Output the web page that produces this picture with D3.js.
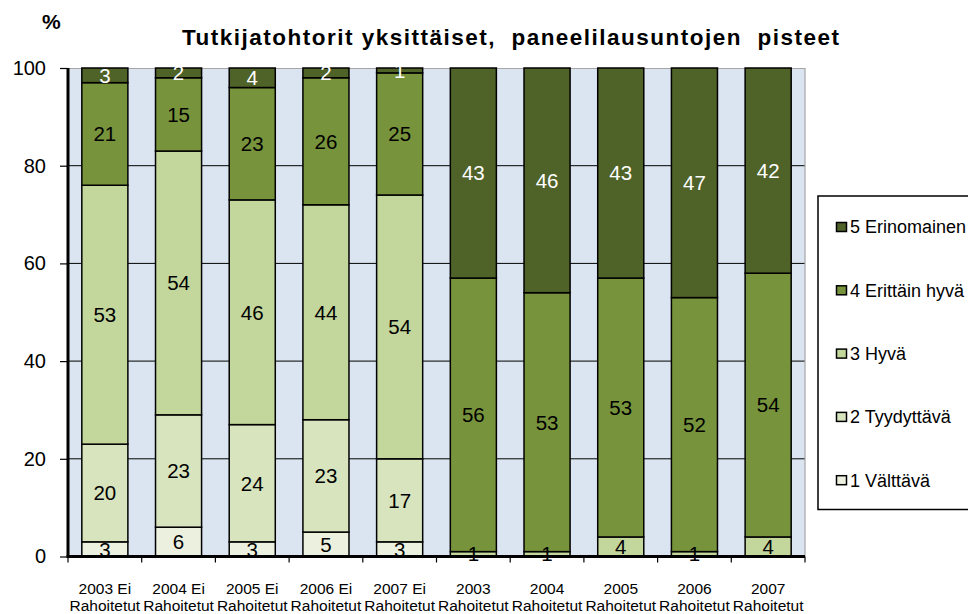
<!DOCTYPE html>
<html>
<head>
<meta charset="utf-8">
<script src="https://cdn.jsdelivr.net/npm/d3@7"></script>
<style>
    body { margin: 0; background: #fff; }
    svg { display: block; font-family: "Liberation Sans", Arial, sans-serif; }
</style>
</head>
<body>
<svg id="chart"></svg>
<script>
// categories (x axis), two-line tick labels
const categories = [
    '2003 Ei|Rahoitetut', '2004 Ei|Rahoitetut', '2005 Ei|Rahoitetut', '2006 Ei|Rahoitetut', '2007 Ei|Rahoitetut',
    '2003|Rahoitetut', '2004|Rahoitetut', '2005|Rahoitetut', '2006|Rahoitetut', '2007|Rahoitetut'
]
const seriesNames = ['1 Välttävä', '2 Tyydyttävä', '3 Hyvä', '4 Erittäin hyvä', '5 Erinomainen']

// series values, % per category
const valttava     = [3, 6, 3, 5, 3, 0, 0, 0, 0, 0]
const tyydyttava   = [20, 23, 24, 23, 17, 0, 0, 0, 0, 0]
const hyva         = [53, 54, 46, 44, 54, 1, 1, 4, 1, 4]
const erittainHyva = [21, 15, 23, 26, 25, 56, 53, 53, 52, 54]
const erinomainen  = [3, 2, 4, 2, 1, 43, 46, 43, 47, 42]

const yTicks = [0, 20, 40, 60, 80, 100]

class StackedBars {
    constructor(_config) {
        this.config = {
            parentElement: _config.parentElement,
            containerWidth: 968,
            containerHeight: 614,
            margin: {top: 68, right: 163, bottom: 57.5, left: 68},
        }
        this.colors = ['#ebf1de', '#d7e4bd', '#c3d69b', '#77933c', '#4f6228']
        this.initVis()
    }

    initVis() {
        let vis = this
        const m = vis.config.margin
        vis.width = vis.config.containerWidth - m.left - m.right
        vis.height = vis.config.containerHeight - m.top - m.bottom

        vis.svg = d3.select(vis.config.parentElement)
            .attr('width', vis.config.containerWidth)
            .attr('height', vis.config.containerHeight)

        vis.data = categories.map((c, i) => ({
            category: c,
            [seriesNames[0]]: valttava[i],
            [seriesNames[1]]: tyydyttava[i],
            [seriesNames[2]]: hyva[i],
            [seriesNames[3]]: erittainHyva[i],
            [seriesNames[4]]: erinomainen[i],
        }))

        vis.xScale = d3.scaleBand()
            .domain(categories)
            .range([0, vis.width])
            .paddingInner(0.375)
            .paddingOuter(0.1875)

        vis.yScale = d3.scaleLinear()
            .domain([0, 100])
            .range([vis.height, 0])

        vis.chart = vis.svg.append('g')
            .attr('transform', `translate(${m.left}, ${m.top})`)

        // plot background
        vis.chart.append('rect')
            .attr('width', vis.width)
            .attr('height', vis.height)
            .attr('fill', '#dbe5f1')

        // horizontal gridlines
        vis.chart.selectAll('.grid')
            .data(yTicks.filter(d => d > 0 && d < 100))
            .join('line')
            .attr('class', 'grid')
            .attr('x1', 0)
            .attr('x2', vis.width)
            .attr('y1', d => vis.yScale(d))
            .attr('y2', d => vis.yScale(d))
            .attr('stroke', '#000')
            .attr('stroke-width', 1)

        // border top/right
        vis.chart.append('path')
            .attr('d', `M0,0.5H${vis.width}V${vis.height}`)
            .attr('fill', 'none')
            .attr('stroke', '#a6a6a6')
            .attr('stroke-width', 1.2)

        vis.renderBars()
        vis.renderAxes()
        vis.renderTitles()
        vis.renderLegend()
    }

    renderBars() {
        let vis = this
        const stacked = d3.stack().keys(seriesNames)(vis.data)

        const layers = vis.chart.selectAll('.layer')
            .data(stacked)
            .join('g')
            .attr('class', 'layer')
            .attr('fill', (d, i) => vis.colors[i])

        layers.selectAll('rect')
            .data(d => d.filter(s => s[1] - s[0] > 0))
            .join('rect')
            .attr('x', d => vis.xScale(d.data.category))
            .attr('width', vis.xScale.bandwidth())
            .attr('y', d => vis.yScale(d[1]))
            .attr('height', d => vis.yScale(d[0]) - vis.yScale(d[1]))
            .attr('stroke', '#000')
            .attr('stroke-width', 1.5)

        // segment value labels
        stacked.forEach((layer, i) => {
            vis.chart.selectAll('.lbl' + i)
                .data(layer.filter(s => s[1] - s[0] > 0))
                .join('text')
                .attr('class', 'lbl' + i)
                .attr('x', d => vis.xScale(d.data.category) + vis.xScale.bandwidth() / 2)
                .attr('y', d => vis.yScale((d[0] + d[1]) / 2))
                .attr('dy', '0.36em')
                .attr('text-anchor', 'middle')
                .attr('font-size', 20.5)
                .attr('fill', i === 4 ? '#fff' : '#000')
                .text(d => d[1] - d[0])
        })
    }

    renderAxes() {
        let vis = this

        vis.yAxis = d3.axisLeft(vis.yScale)
            .tickValues(yTicks)
            .tickSize(8)
            .tickPadding(14)
        vis.yAxisG = vis.chart.append('g')
            .attr('class', 'y_axis')
            .call(vis.yAxis)
        vis.yAxisG.select('.domain').attr('stroke-width', 3).attr('d', `M0,0V${vis.height}`)
        vis.yAxisG.selectAll('.tick line').attr('stroke-width', 1.2)
        vis.yAxisG.selectAll('.tick text')
            .attr('font-size', 20)
            .attr('font-family', 'Liberation Sans, Arial, sans-serif')
            .attr('fill', '#000')

        // x axis: ticks at band boundaries
        const step = vis.xScale.step()
        const boundaries = d3.range(categories.length + 1).map(i => i * step)
        const xAxisG = vis.chart.append('g')
            .attr('class', 'x_axis')
            .attr('transform', `translate(0, ${vis.height})`)
        xAxisG.selectAll('line.tk')
            .data(boundaries)
            .join('line')
            .attr('class', 'tk')
            .attr('x1', d => d).attr('x2', d => d)
            .attr('y1', 0).attr('y2', 6)
            .attr('stroke', '#000')
            .attr('stroke-width', 1.2)
        xAxisG.append('line')
            .attr('x1', -1.5).attr('x2', vis.width)
            .attr('stroke', '#000')
            .attr('stroke-width', 3)

        const labels = xAxisG.selectAll('text.xl')
            .data(categories)
            .join('text')
            .attr('class', 'xl')
            .attr('text-anchor', 'middle')
            .attr('font-size', 15.5)
            .attr('transform', d => `translate(${vis.xScale(d) + vis.xScale.bandwidth() / 2}, 0)`)
        labels.selectAll('tspan')
            .data(d => d.split('|'))
            .join('tspan')
            .attr('x', 0)
            .attr('y', (d, i) => 37.5 + i * 17)
            .text(d => d)
    }

    renderTitles() {
        let vis = this
        vis.svg.append('text')
            .text('Tutkijatohtorit yksittäiset,  paneelilausuntojen  pisteet')
            .attr('x', 182)
            .attr('y', 44.5)
            .attr('font-size', 22.5)
            .attr('font-weight', 'bold')
            .attr('textLength', 657)
            .attr('lengthAdjust', 'spacing')
            .style('white-space', 'pre')

        vis.svg.append('text')
            .text('%')
            .attr('x', 42)
            .attr('y', 29)
            .attr('font-size', 21)
            .attr('font-weight', 'bold')
    }

    renderLegend() {
        let vis = this
        const legend = vis.svg.append('g').attr('class', 'legend')
        legend.append('rect')
            .attr('x', 818)
            .attr('y', 196)
            .attr('width', 160)
            .attr('height', 313.5)
            .attr('fill', '#fff')
            .attr('stroke', '#000')
            .attr('stroke-width', 1.5)

        const order = seriesNames.map((s, i) => i).reverse()
        const items = legend.selectAll('.item')
            .data(order)
            .join('g')
            .attr('class', 'item')
            .attr('transform', (d, i) => `translate(836, ${227 + i * 63.3})`)
        items.append('rect')
            .attr('x', 0.5).attr('y', -4.5)
            .attr('width', 10).attr('height', 9)
            .attr('fill', d => vis.colors[d])
            .attr('stroke', '#000')
            .attr('stroke-width', 1.5)
        items.append('text')
            .attr('x', 14)
            .attr('dy', '0.36em')
            .attr('font-size', 18)
            .text(d => seriesNames[d])
    }
}

new StackedBars({parentElement: '#chart'})
</script>
</body>
</html>
